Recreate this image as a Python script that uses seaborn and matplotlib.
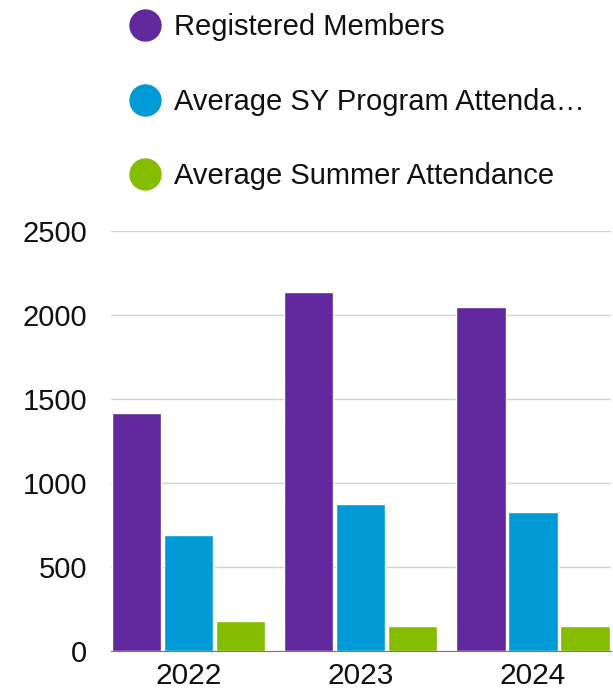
import pandas as pd
import matplotlib.pyplot as plt
import seaborn as sns
from matplotlib.lines import Line2D

# data
years = ['2022', '2023', '2024']
series = ['Registered Members', 'Average SY Program Attenda…', 'Average Summer Attendance']
registered = [1413, 2133, 2048]
sy_attendance = [689, 873, 824]
summer_attendance = [179, 145, 145]
colors = ['#62289d', '#009ad6', '#84bd00']

rows = []
for name, vals in zip(series, [registered, sy_attendance, summer_attendance]):
    for y, v in zip(years, vals):
        rows.append({'Year': y, 'Series': name, 'Value': v})
df = pd.DataFrame(rows)

sns.set_style("white")
plt.rcParams['font.family'] = ['Liberation Sans', 'DejaVu Sans']

fig = plt.figure(figsize=(6.13, 6.92), dpi=100)
ax = fig.add_axes([0.181, 0.0597, 0.815, 0.607])

sns.barplot(data=df, x='Year', y='Value', hue='Series', palette=colors,
            width=0.906, gap=0.056, ax=ax, legend=False, saturation=1)

ax.set_ylim(0, 2500)
ax.set_xlim(-0.45, 2.45)
ax.set_yticks([0, 500, 1000, 1500, 2000, 2500])
ax.yaxis.grid(True, color='#d3d3d3', linewidth=1)
ax.set_axisbelow(True)
ax.set_xlabel('')
ax.set_ylabel('')
for s in ['top', 'right', 'left']:
    ax.spines[s].set_visible(False)
ax.spines['bottom'].set_color('#777777')
ax.tick_params(axis='y', length=0, pad=17, labelsize=21, labelcolor='#111111')
ax.tick_params(axis='x', length=0, pad=8, labelsize=21.5, labelcolor='#111111')

handles = [Line2D([], [], marker='o', linestyle='', markersize=22.3,
                  markerfacecolor=c, markeredgecolor=c) for c in colors]
fig.legend(handles, series, loc='upper left', bbox_to_anchor=(0.1936, 0.998),
           frameon=False, fontsize=21, labelspacing=1.6, handletextpad=0.49,
           handlelength=1.0, borderaxespad=0.0, labelcolor='#111111')

plt.savefig('out.png', dpi=100)
